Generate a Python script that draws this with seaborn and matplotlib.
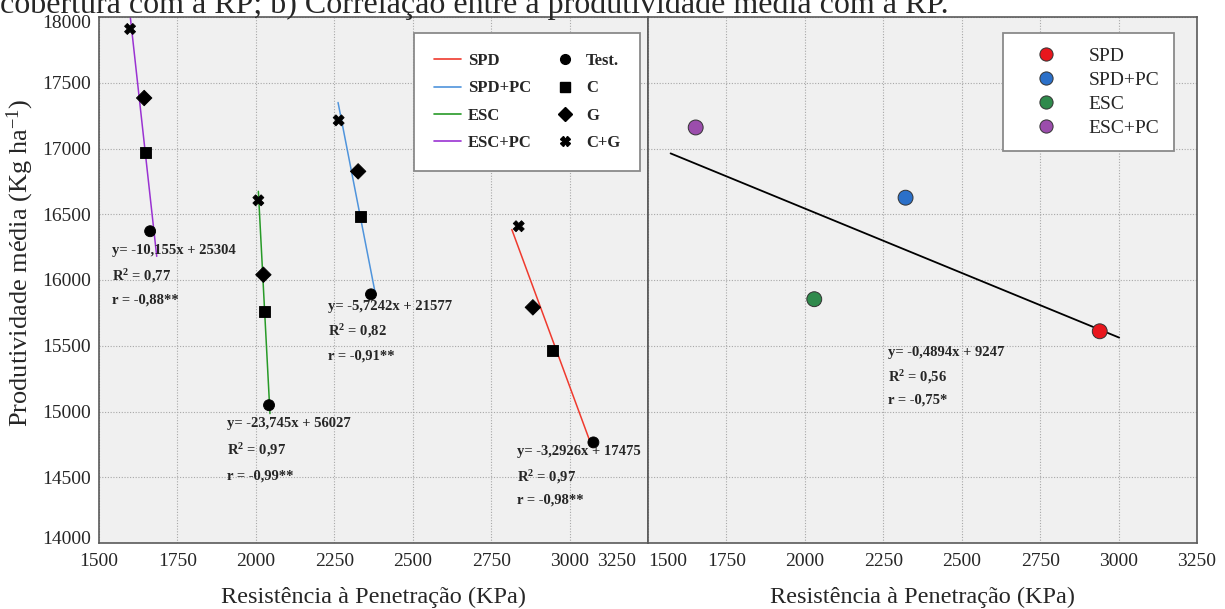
import numpy as np
import pandas as pd
import matplotlib
matplotlib.use("Agg")
import matplotlib.pyplot as plt
import seaborn as sns
from matplotlib.lines import Line2D
from matplotlib.transforms import ScaledTranslation
from matplotlib.font_manager import FontProperties

# ---------------- data ----------------
systems = ["SPD", "SPD+PC", "ESC", "ESC+PC"]
covers = ["Test.", "C", "G", "C+G"]

# Penetration resistance (KPa), order Test., C, G, C+G
rp_spd = [3076, 2947, 2883, 2838]
rp_spdpc = [2367, 2335, 2326, 2264]
rp_esc = [2042, 2029, 2024, 2008]
rp_escpc = [1663, 1649, 1644, 1599]
# Mean yield (Kg/ha)
yield_spd = [14765, 15462, 15792, 16409]
yield_spdpc = [15891, 16483, 16826, 17214]
yield_esc = [15048, 15760, 16040, 16606]
yield_escpc = [16371, 16967, 17384, 17909]

# x-extent of the fitted lines
fit_span = {"SPD": [2816, 3072], "SPD+PC": [2262, 2380],
            "ESC": [2008, 2045], "ESC+PC": [1593, 1684]}

# panel b: means per system
mean_rp = [2940, 2321, 2030, 1652]
mean_yield = [15610, 16626, 15854, 17160]
fit_span_b = [1572, 3002]

eq_text = {
    "SPD": ["y= -3,2926x + 17475", "0,97", "r = -0,98**"],
    "SPD+PC": ["y= -5,7242x + 21577", "0,82", "r = -0,91**"],
    "ESC": ["y= -23,745x + 56027", "0,97", "r = -0,99**"],
    "ESC+PC": ["y= -10,155x + 25304", "0,77", "r = -0,88**"],
}
eq_text_b = ["y= -0,4894x + 9247", "0,56", "r = -0,75*"]

x_ticks = [1500, 1750, 2000, 2250, 2500, 2750, 3000, 3250]
y_ticks = [14000, 14500, 15000, 15500, 16000, 16500, 17000, 17500, 18000]

# ---------------- style ----------------
line_colors = {"SPD": "#ef3a2e", "SPD+PC": "#4f94dc", "ESC": "#279a27", "ESC+PC": "#9a32d2"}
point_colors = {"SPD": "#e8161d", "SPD+PC": "#2b70c9", "ESC": "#2f8a4c", "ESC+PC": "#9b4dac"}
cover_markers = {"Test.": "o", "C": "s", "G": "D", "C+G": "X"}

sns.set_style("white")
plt.rcParams["font.family"] = ["Liberation Serif", "DejaVu Serif"]
plt.rcParams["mathtext.fontset"] = "custom"
plt.rcParams["mathtext.rm"] = "Liberation Serif"
plt.rcParams["mathtext.bf"] = "Liberation Serif:bold"
plt.rcParams["mathtext.it"] = "Liberation Serif:italic"

rows = []
for s, xs, ys in zip(systems, [rp_spd, rp_spdpc, rp_esc, rp_escpc],
                     [yield_spd, yield_spdpc, yield_esc, yield_escpc]):
    for c, xv, yv in zip(covers, xs, ys):
        rows.append({"system": s, "cover": c, "rp": xv, "yield": yv})
df = pd.DataFrame(rows)
df_b = pd.DataFrame({"system": systems, "rp": mean_rp, "yield": mean_yield})

W, H = 1225, 609
fig = plt.figure(figsize=(W / 100, H / 100), dpi=100)
L, R, B, T = 99, 1197, 66, 592
pw = (R - L) / 2
ax1 = fig.add_axes([L / W, B / H, pw / W, (T - B) / H])
ax2 = fig.add_axes([(L + pw) / W, B / H, pw / W, (T - B) / H])

for ax in (ax1, ax2):
    ax.set_facecolor("#f0f0f0")
    ax.set_xlim(1500, 3250)
    ax.set_ylim(14000, 18000)
    ax.set_xticks(x_ticks)
    ax.set_yticks(y_ticks)
    ax.grid(True, ls=(0, (1, 1.5)), color="#a8a8a8", lw=0.8)
    ax.set_axisbelow(True)
    for sp in ax.spines.values():
        sp.set_color("#5a5a5a")
        sp.set_linewidth(1.2)
    ax.tick_params(direction="in", length=7, width=1, color="#5a5a5a",
                   labelsize=14, pad=7)
    ax.tick_params(axis="y", pad=6)
ax2.tick_params(labelleft=False)

# ---- panel a ----
for s in systems:
    d = df[df.system == s]
    k, b0 = np.polyfit(d["rp"], d["yield"], 1)
    xx = np.array(fit_span[s])
    ax1.plot(xx, k * xx + b0, color=line_colors[s], lw=1.1, zorder=2)

sns.scatterplot(data=df, x="rp", y="yield", style="cover", markers=cover_markers,
                style_order=covers, color="black", edgecolor="black", s=62,
                legend=False, ax=ax1, zorder=3)

eq_pos = {"ESC+PC": (1540, [16222, 16030, 15848]),
          "ESC": (1907, [14909, 14707, 14508]),
          "SPD+PC": (2231, [15795, 15608, 15424]),
          "SPD": (2833, [14697, 14500, 14328])}
for s, (xp, ys) in eq_pos.items():
    e = eq_text[s]
    ax1.text(xp, ys[0], e[0], fontsize=10.5, fontweight="bold", va="center", ha="left")
    ax1.text(xp, ys[1], r"$\mathbf{R^{2}}$ = " + e[1], fontsize=10.5, fontweight="bold",
             va="center", ha="left")
    ax1.text(xp, ys[2], e[2], fontsize=10.5, fontweight="bold", va="center", ha="left")

top_anchor = 1 - (33 - (H - T)) / (T - B)

# legend a
h = [Line2D([], [], color=line_colors[s], lw=1.2) for s in systems]
h += [Line2D([], [], marker=cover_markers[c], color="black", ls="none", markersize=7)
      for c in covers]
leg = ax1.legend(h, systems + covers, ncol=2, loc="upper left",
                 bbox_to_anchor=((414 - L) / pw, top_anchor),
                 borderaxespad=0, prop=FontProperties(family="Liberation Serif", weight="bold", size=12),
                 frameon=True, fancybox=False, edgecolor="#8a8a8a", framealpha=1,
                 handlelength=1.6, handletextpad=0.45, columnspacing=1.2,
                 labelspacing=0.68, borderpad=1.2)
leg.get_frame().set_linewidth(1.3)

# ---- panel b ----
kb, bb = np.polyfit(df_b["rp"], df_b["yield"], 1)
xb = np.array(fit_span_b)
ax2.plot(xb, kb * xb + bb, color="black", lw=1.3, zorder=2)
sns.scatterplot(data=df_b, x="rp", y="yield", hue="system", palette=point_colors,
                hue_order=systems, s=115, edgecolor="#333333", linewidth=0.7,
                legend=False, ax=ax2, zorder=3)
xp = 2265
for yv, t in zip([15452, 15263, 15086],
                 [eq_text_b[0], r"$\mathbf{R^{2}}$ = " + eq_text_b[1], eq_text_b[2]]):
    ax2.text(xp, yv, t, fontsize=10.5, fontweight="bold", va="center", ha="left")

hb = [Line2D([], [], marker="o", ls="none", markersize=9.5, markerfacecolor=point_colors[s],
             markeredgecolor="#333333", markeredgewidth=0.7) for s in systems]
leg2 = ax2.legend(hb, systems, loc="upper left",
                  bbox_to_anchor=((1003 - L - pw) / pw, top_anchor),
                  borderaxespad=0, prop=FontProperties(family="Liberation Serif", size=14),
                  frameon=True, fancybox=False, edgecolor="#8a8a8a", framealpha=1,
                  handlelength=2.9, handletextpad=0.75, labelspacing=0.32, borderpad=0.75)
leg2.get_frame().set_linewidth(1.3)

for ax in (ax1, ax2):
    ax.set_xlabel("")
    ax.set_ylabel("")

# shift crowded edge tick labels
fig.canvas.draw()
lab = ax1.get_xticklabels()[-1]
lab.set_transform(lab.get_transform() + ScaledTranslation(-0.31, 0, fig.dpi_scale_trans))
lab = ax2.get_xticklabels()[0]
lab.set_transform(lab.get_transform() + ScaledTranslation(0.2, 0, fig.dpi_scale_trans))
lab = ax1.get_yticklabels()[-1]
lab.set_transform(lab.get_transform() + ScaledTranslation(0, -0.05, fig.dpi_scale_trans))
lab = ax1.get_yticklabels()[0]
lab.set_transform(lab.get_transform() + ScaledTranslation(0, 0.06, fig.dpi_scale_trans))

# axis titles
fig.text(20 / W, 1 - 263 / H, r"Produtividade média (Kg ha$^{\mathregular{-1}}$)",
         rotation=90, ha="center", va="center", fontsize=19)
fig.text((L + pw / 2) / W, 1 - 597 / H, "Resistência à Penetração (KPa)",
         ha="center", va="center", fontsize=17.5)
fig.text((L + 1.5 * pw) / W, 1 - 597 / H, "Resistência à Penetração (KPa)",
         ha="center", va="center", fontsize=17.5)
# clipped caption at top
fig.text(0.0, 1 - 13 / H, "cobertura com a RP; b) Correlação entre a produtividade média com a RP.",
         ha="left", va="baseline", fontsize=23)

fig.savefig("out.png", dpi=100)
